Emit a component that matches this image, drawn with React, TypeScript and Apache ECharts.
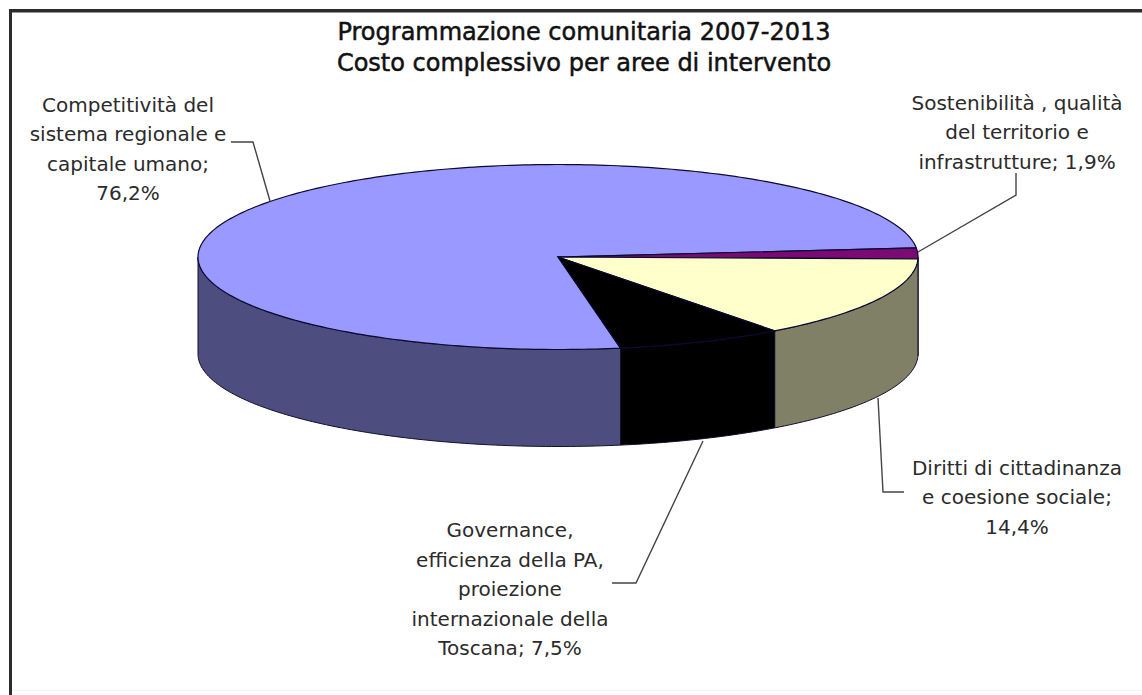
import { useEffect, useRef } from "react";
import * as echarts from "echarts";

// Chart content
const titleLines = ["Programmazione comunitaria 2007-2013", "Costo complessivo per aree di intervento"];
const areaNames = [
  "Competitività del\nsistema regionale e\ncapitale umano;\n",
  "Sostenibilità , qualità\ndel territorio e\ninfrastrutture; ",
  "Diritti di cittadinanza\ne coesione sociale;\n",
  "Governance,\nefficienza della PA,\nproiezione\ninternazionale della\nToscana; ",
];
const areaShares = [76.2, 1.9, 14.4, 7.5];

// Styling per slice, same order as the values
const topColors = ["#9999FF", "#7C0A74", "#FFFFCC", "#000000"];
const sideColors = ["#4D4D80", "#4A0A46", "#808066", "#000000"];

// Disc geometry
const CX = 558;
const CY = 257;
const RX = 360;
const RY = 92.5;
const DEPTH = 97;
const START_DEG = 80; // the first slice begins here, running clockwise on screen

const FONT = "'DejaVu Sans', sans-serif";

// Label centres and the elbow lines leading to the disc
const labelCentres: [number, number][] = [
  [128, 149],
  [1017, 132],
  [1017, 497],
  [510, 589],
];
const leaderLines: [number, number][][] = [
  [[231, 142], [253, 142], [270, 201]],
  [[1016, 173], [1016, 195], [918, 252]],
  [[904, 492], [883, 492], [878, 398]],
  [[612, 583], [636, 583], [703, 441]],
];

const sliceAngles = (index: number): [number, number] => {
  const before = areaShares.slice(0, index).reduce((sum, v) => sum + v, 0);
  const start = START_DEG + (before / 100) * 360;
  return [start, start + (areaShares[index] / 100) * 360];
};

const rim = (deg: number, drop = 0): [number, number] => {
  const t = (deg * Math.PI) / 180;
  return [CX + RX * Math.cos(t), CY + drop + RY * Math.sin(t)];
};

const arc = (from: number, to: number, drop = 0): [number, number][] => {
  const pts: [number, number][] = [];
  const steps = Math.max(2, Math.ceil(Math.abs(to - from)));
  for (let i = 0; i <= steps; i++) pts.push(rim(from + ((to - from) * i) / steps, drop));
  return pts;
};

// The near half of the cylinder wall, clipped per slice to the visible angles
const renderWall = (params: any) => {
  const [a, b] = sliceAngles(params.dataIndex);
  const ranges: [number, number][] = [];
  for (const shift of [0, -360]) {
    const from = Math.max(a + shift, 0);
    const to = Math.min(b + shift, 180);
    if (to > from) ranges.push([from, to]);
  }
  return {
    type: "group",
    children: ranges.map(([from, to]) => ({
      type: "polygon",
      shape: { points: [...arc(from, to), ...arc(to, from, DEPTH)] },
      style: { fill: sideColors[params.dataIndex], stroke: "#10102a", lineWidth: 1 },
    })),
  };
};

const renderTop = (params: any) => {
  const [a, b] = sliceAngles(params.dataIndex);
  return {
    type: "polygon",
    shape: { points: [[CX, CY], ...arc(a, b)] },
    style: { fill: topColors[params.dataIndex], stroke: "#0a0a30", lineWidth: 1.2 },
  };
};

const labelText = (index: number) => `${areaNames[index]}${areaShares[index].toFixed(1).replace(".", ",")}%`;

export default function App() {
  const ref = useRef<HTMLDivElement>(null);

  useEffect(() => {
    document.body.style.margin = "0";
    const chart = echarts.init(ref.current!, null, { renderer: "svg" });
    const seriesData = areaShares.map((v) => ({ value: v }));
    chart.setOption({
      animation: false,
      backgroundColor: "#ffffff",
      series: [
        { type: "custom", coordinateSystem: "none", renderItem: renderWall, data: seriesData, silent: true },
        { type: "custom", coordinateSystem: "none", renderItem: renderTop, data: seriesData, silent: true },
      ],
      graphic: [
        // Frame: only the top and left rules are drawn
        { type: "rect", shape: { x: 9, y: 9, width: 1133, height: 3.5 }, style: { fill: "#2c2c2c" } },
        { type: "rect", shape: { x: 9, y: 9, width: 3, height: 686 }, style: { fill: "#2c2c2c" } },
        { type: "rect", shape: { x: 12, y: 690, width: 1130, height: 1 }, style: { fill: "#f4f4f4" } },
        ...titleLines.map((line, i) => ({
          type: "text",
          x: 584,
          y: 32 + i * 31,
          style: {
            text: line,
            font: `24px ${FONT}`,
            fill: "#111111",
            stroke: "#111111",
            lineWidth: 0.5,
            align: "center",
            verticalAlign: "middle",
          },
        })),
        ...leaderLines.map((points) => ({
          type: "polyline",
          shape: { points },
          style: { fill: "none", stroke: "#444444", lineWidth: 1.4 },
        })),
        ...labelCentres.map(([x, y], i) => ({
          type: "text",
          x,
          y,
          style: {
            text: labelText(i),
            font: `20px ${FONT}`,
            lineHeight: 29.5,
            fill: "#2b2b2b",
            align: "center",
            verticalAlign: "middle",
          },
        })),
      ],
    });
    return () => chart.dispose();
  }, []);

  return <div ref={ref} style={{ width: 1142, height: 695 }} />;
}
